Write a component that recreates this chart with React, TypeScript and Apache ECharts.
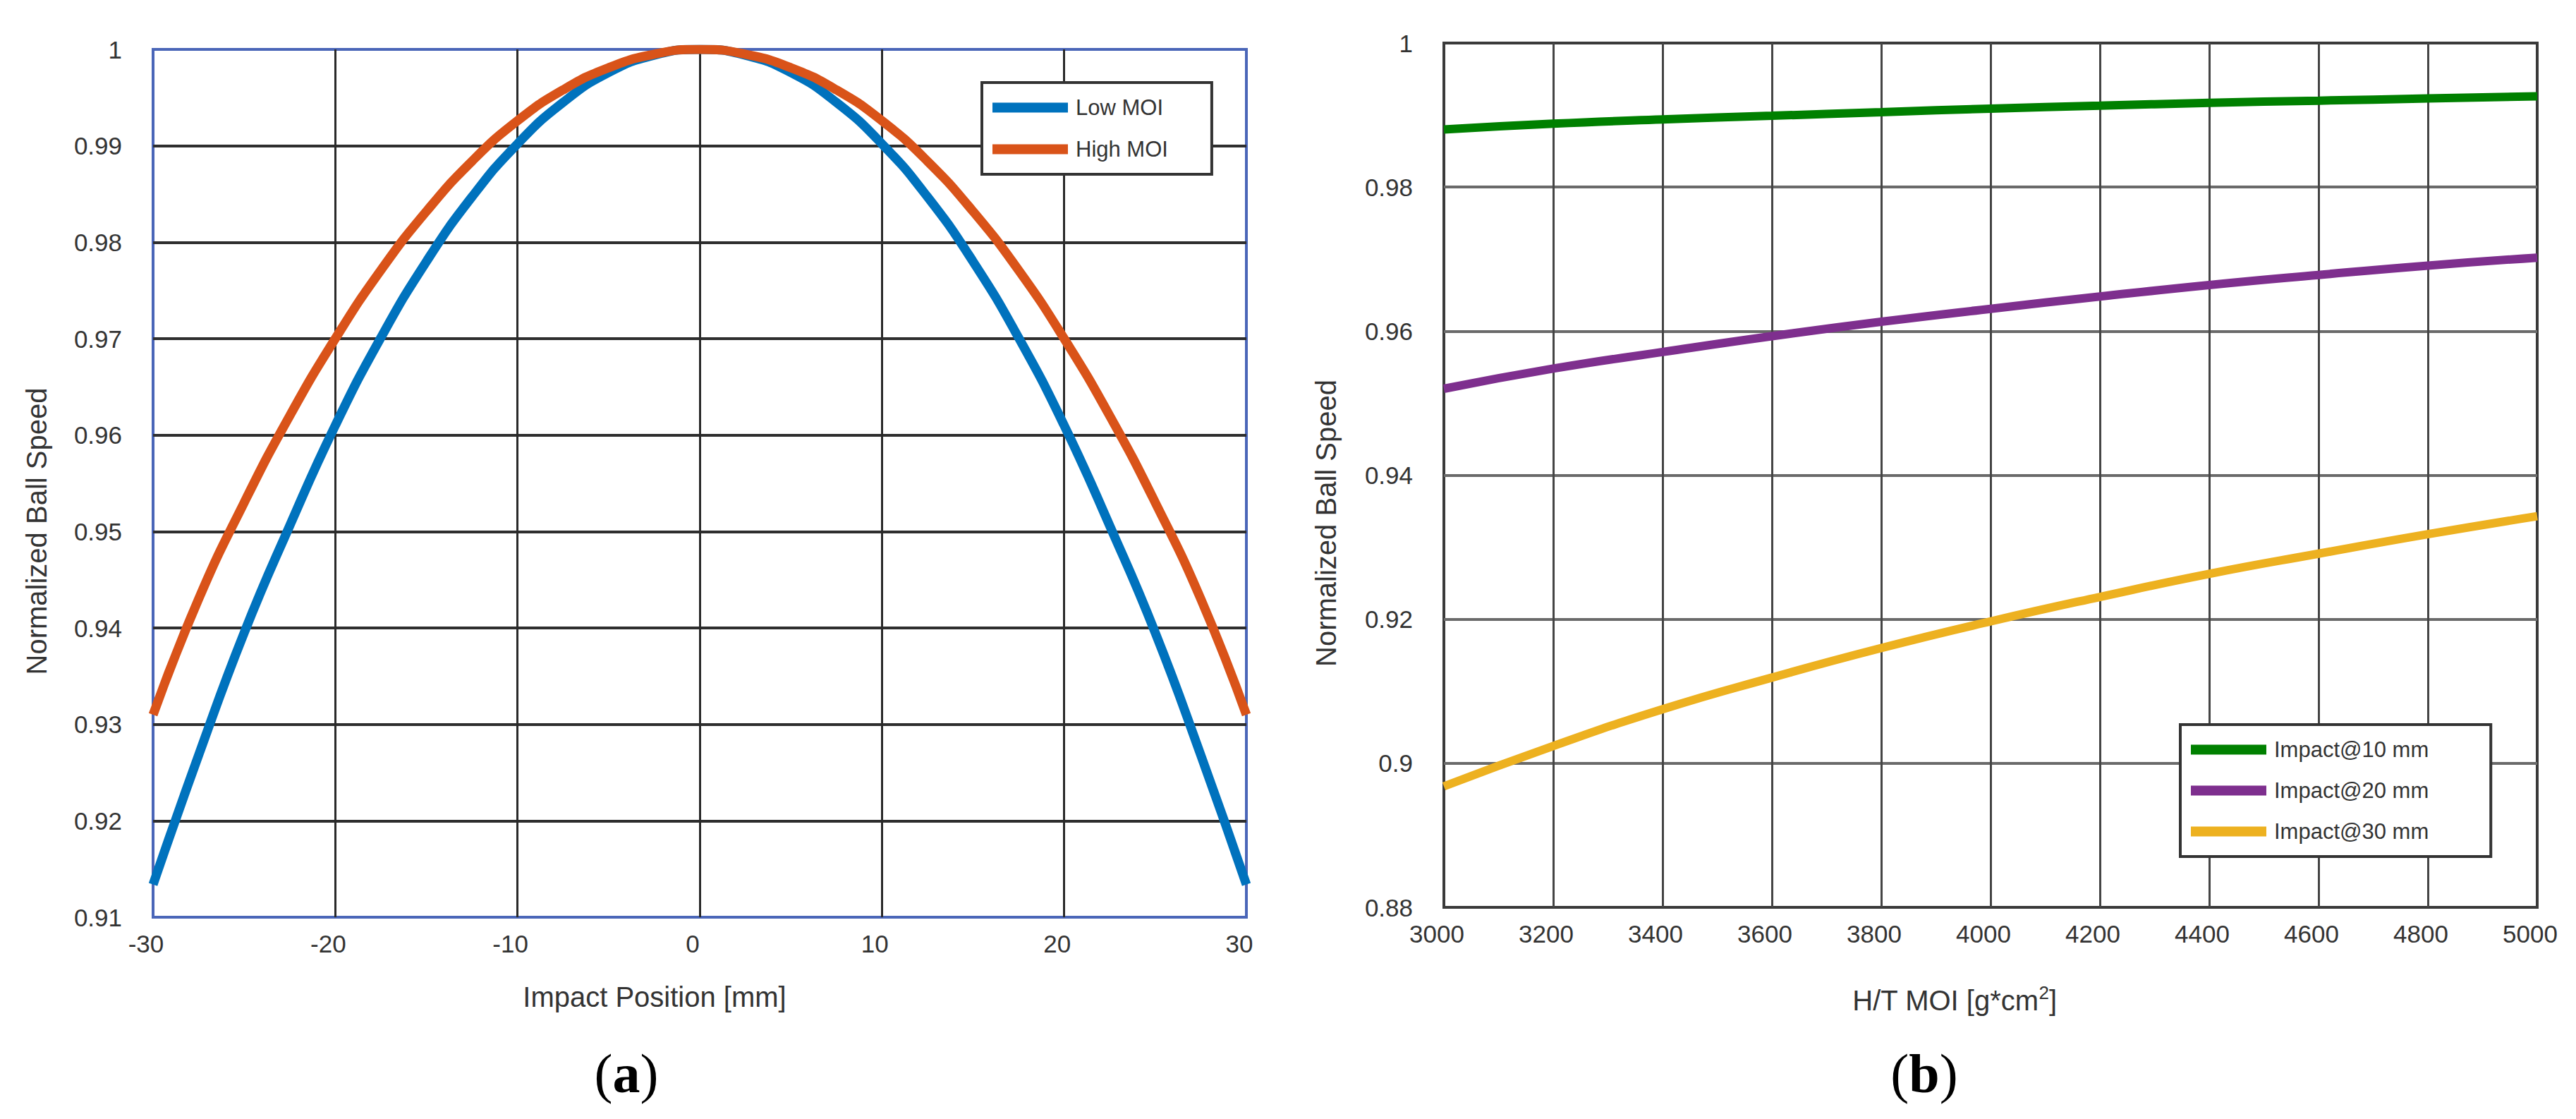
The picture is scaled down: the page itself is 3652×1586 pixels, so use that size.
import { useEffect, useRef } from 'react';
import * as echarts from 'echarts';

// (a) impact position sweep
const impactPos = [-30, -27.5, -25, -22.5, -20, -17.5, -15, -12.5, -10, -7.5, -5, -2.5, 0, 2.5, 5, 7.5, 10, 12.5, 15, 17.5, 20, 22.5, 25, 27.5, 30];
const lowMOI = [0.9134, 0.9268, 0.9395, 0.9506, 0.961, 0.9701, 0.978, 0.9847, 0.9902, 0.9945, 0.9976, 0.9994, 1.0, 0.9994, 0.9976, 0.9945, 0.9902, 0.9847, 0.978, 0.9701, 0.961, 0.9506, 0.9395, 0.9268, 0.9134];
const highMOI = [0.931, 0.943, 0.953, 0.962, 0.97, 0.9771, 0.9832, 0.9884, 0.9926, 0.9958, 0.9981, 0.9995, 1.0, 0.9995, 0.9981, 0.9958, 0.9926, 0.9884, 0.9832, 0.9771, 0.97, 0.962, 0.953, 0.943, 0.931];

// (b) head MOI sweep
const moi = [3000, 3200, 3400, 3600, 3800, 4000, 4200, 4400, 4600, 4800, 5000];
const impact10 = [0.988, 0.9888, 0.9894, 0.9899, 0.9904, 0.9909, 0.9913, 0.9917, 0.992, 0.9923, 0.9926];
const impact20 = [0.952, 0.9548, 0.9571, 0.9593, 0.9613, 0.9631, 0.9648, 0.9664, 0.9678, 0.9691, 0.9702];
const impact30 = [0.8968, 0.9024, 0.9075, 0.9119, 0.916, 0.9197, 0.9231, 0.9263, 0.9291, 0.9318, 0.9343];

const SANS = 'Liberation Sans, Arial, sans-serif';
const SERIF = 'Liberation Serif, Times New Roman, serif';
const TXT = '#333333';

const pairs = (xs: number[], ys: number[]) => xs.map((x, i) => [x, ys[i]]);

const lineSeries = (name: string, data: number[][], color: string, idx: number, width: number) => ({
    name,
    type: 'line',
    xAxisIndex: idx,
    yAxisIndex: idx,
    data,
    smooth: true,
    showSymbol: false,
    lineStyle: { color, width },
    itemStyle: { color },
});

const App = () => {
    const chartRef = useRef(null);

    useEffect(() => {
        document.body.style.margin = '0';
        if (!chartRef.current) return;
        const myChart = echarts.init(chartRef.current, null, { renderer: 'svg' });

        const plain = (v: number) => String(v);
        const tickLabelY = { color: TXT, fontSize: 35, fontFamily: SANS, margin: 44, padding: [0, 0, 20, 0], formatter: plain };
        const tickLabelX = { color: TXT, fontSize: 35, fontFamily: SANS, margin: 20, padding: [0, 20, 0, 0], formatter: plain };
        const legendBase = {
            orient: 'vertical',
            icon: 'rect',
            itemWidth: 107,
            itemHeight: 14,
            itemGap: 28,
            backgroundColor: '#ffffff',
            borderColor: '#333333',
            borderWidth: 4,
            borderRadius: 0,
            textStyle: { color: TXT, fontSize: 31, fontFamily: SANS, padding: [0, 0, 0, 6] },
        };

        const option = {
            animation: false,
            backgroundColor: '#ffffff',
            grid: [
                { left: 217, top: 70, width: 1550, height: 1230, show: true, borderColor: '#4a66b8', borderWidth: 4, backgroundColor: 'transparent' },
                { left: 2047, top: 61, width: 1550, height: 1225, show: true, borderColor: '#3a3a3a', borderWidth: 4, backgroundColor: 'transparent' },
            ],
            legend: [
                {
                    ...legendBase,
                    left: 1392,
                    top: 117,
                    padding: [20, 62, 20, 15],
                    data: ['Low MOI', 'High MOI'],
                },
                {
                    ...legendBase,
                    left: 3091,
                    top: 1027,
                    itemGap: 27,
                    padding: [20, 88, 20, 15],
                    data: ['Impact@10 mm', 'Impact@20 mm', 'Impact@30 mm'],
                },
            ],
            xAxis: [
                {
                    type: 'value',
                    gridIndex: 0,
                    min: -30,
                    max: 30,
                    interval: 10,
                    name: 'Impact Position [mm]',
                    nameLocation: 'middle',
                    nameGap: 93,
                    nameTextStyle: { color: TXT, fontSize: 40, fontFamily: SANS, padding: [0, 128, 0, 0] },
                    axisLine: { show: false },
                    axisTick: { show: false },
                    axisLabel: tickLabelX,
                    splitLine: { show: true, showMinLine: false, showMaxLine: false, lineStyle: { color: '#2a2a2a', width: 3 } },
                },
                {
                    type: 'value',
                    gridIndex: 1,
                    min: 3000,
                    max: 5000,
                    interval: 200,
                    name: 'H/T MOI [g*cm{sup|2}]',
                    nameLocation: 'middle',
                    nameGap: 108,
                    nameTextStyle: {
                        color: TXT,
                        fontSize: 40,
                        fontFamily: SANS,
                        padding: [0, 102, 0, 0],
                        rich: {
                            sup: { color: TXT, fontSize: 26, fontFamily: SANS, verticalAlign: 'top', padding: [0, 0, 22, 0] },
                        },
                    },
                    axisLine: { show: false },
                    axisTick: { show: false },
                    axisLabel: tickLabelX,
                    splitLine: { show: true, showMinLine: false, showMaxLine: false, lineStyle: { color: '#454545', width: 3 } },
                },
            ],
            yAxis: [
                {
                    type: 'value',
                    gridIndex: 0,
                    min: 0.91,
                    max: 1,
                    interval: 0.01,
                    name: 'Normalized Ball Speed',
                    nameLocation: 'middle',
                    nameGap: 145,
                    nameTextStyle: { color: TXT, fontSize: 40, fontFamily: SANS, padding: [0, 136, 0, 0] },
                    axisLine: { show: false },
                    axisTick: { show: false },
                    axisLabel: tickLabelY,
                    splitLine: { show: true, showMinLine: false, showMaxLine: false, lineStyle: { color: '#2e2e2e', width: 4 } },
                },
                {
                    type: 'value',
                    gridIndex: 1,
                    min: 0.88,
                    max: 1,
                    interval: 0.02,
                    name: 'Normalized Ball Speed',
                    nameLocation: 'middle',
                    nameGap: 147,
                    nameTextStyle: { color: TXT, fontSize: 40, fontFamily: SANS, padding: [0, 136, 0, 0] },
                    axisLine: { show: false },
                    axisTick: { show: false },
                    axisLabel: tickLabelY,
                    splitLine: { show: true, showMinLine: false, showMaxLine: false, lineStyle: { color: '#6a6a6a', width: 4 } },
                },
            ],
            series: [
                lineSeries('Low MOI', pairs(impactPos, lowMOI), '#0072BD', 0, 13),
                lineSeries('High MOI', pairs(impactPos, highMOI), '#D95319', 0, 13),
                lineSeries('Impact@10 mm', pairs(moi, impact10), '#008000', 1, 12),
                lineSeries('Impact@20 mm', pairs(moi, impact20), '#7E2F8E', 1, 12),
                lineSeries('Impact@30 mm', pairs(moi, impact30), '#EDB120', 1, 12),
            ],
            graphic: [
                {
                    type: 'text',
                    x: 888,
                    y: 1521,
                    style: {
                        text: '{p|(}{l|a}{p|)}',
                        align: 'center',
                        verticalAlign: 'middle',
                        fill: '#000000',
                        rich: {
                            p: { fontSize: 78, fontFamily: SERIF, fill: '#000000' },
                            l: { fontSize: 78, fontFamily: SERIF, fontWeight: 'bold', fill: '#000000' },
                        },
                    },
                },
                {
                    type: 'text',
                    x: 2728,
                    y: 1521,
                    style: {
                        text: '{p|(}{l|b}{p|)}',
                        align: 'center',
                        verticalAlign: 'middle',
                        fill: '#000000',
                        rich: {
                            p: { fontSize: 78, fontFamily: SERIF, fill: '#000000' },
                            l: { fontSize: 78, fontFamily: SERIF, fontWeight: 'bold', fill: '#000000' },
                        },
                    },
                },
            ],
        };

        myChart.setOption(option);

        return () => {
            myChart.dispose();
        };
    }, []);

    return <div ref={chartRef} style={{ width: '3652px', height: '1586px' }} />;
};

export default App;
